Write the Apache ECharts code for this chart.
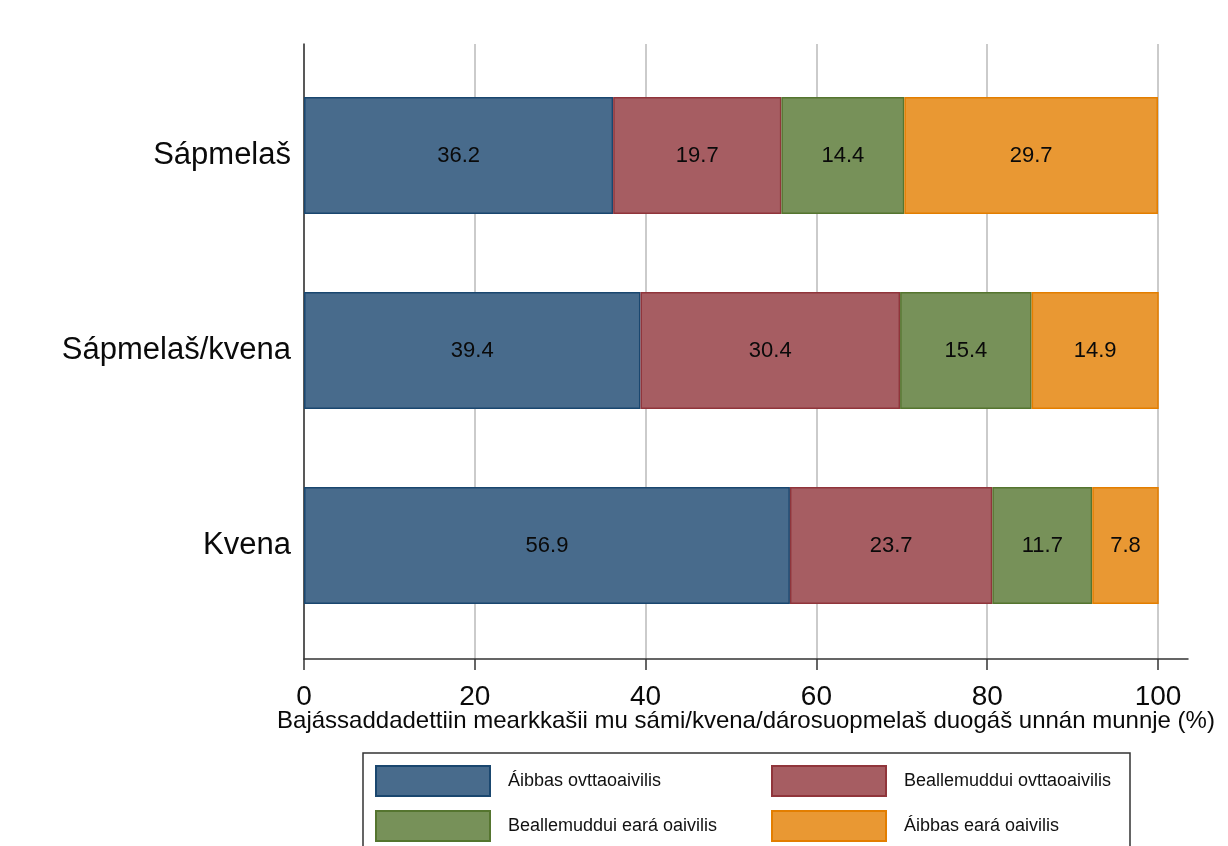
<!DOCTYPE html>
<html>
<head>
<meta charset="utf-8">
<script src="https://cdn.jsdelivr.net/npm/echarts@6/dist/echarts.min.js"></script>
<style>
html,body{margin:0;padding:0;background:#fff;}
#chart{width:1228px;height:846px;}
</style>
</head>
<body>
<div id="chart"></div>
<script>
const categories = ['Sápmelaš', 'Sápmelaš/kvena', 'Kvena'];
const seriesNames = ['Áibbas ovttaoaivilis', 'Beallemuddui ovttaoaivilis', 'Beallemuddui eará oaivilis', 'Áibbas eará oaivilis'];
const aibbasOvtta = [36.2, 39.4, 56.9];
const beallemudduiOvtta = [19.7, 30.4, 23.7];
const beallemudduiEara = [14.4, 15.4, 11.7];
const aibbasEara = [29.7, 14.9, 7.8];
const xTicks = [0, 20, 40, 60, 80, 100];
const axisTitle = 'Bajássaddadettiin mearkkašii mu sámi/kvena/dárosuopmelaš duogáš unnán munnje (%)';

const fills = ['#486b8c', '#a65d62', '#779159', '#e99833'];
const borders = ['#1a476f', '#90353b', '#55752f', '#e37e00'];
const values = [aibbasOvtta, beallemudduiOvtta, beallemudduiEara, aibbasEara];
const FONT = '"Liberation Sans", Arial, sans-serif';

const chart = echarts.init(document.getElementById('chart'), null, {renderer: 'canvas'});

const series = values.map((v, i) => ({
  name: seriesNames[i],
  type: 'bar',
  stack: 'total',
  xAxisIndex: 2,
  yAxisIndex: 2,
  barWidth: 117,
  data: v,
  itemStyle: {color: fills[i], borderColor: borders[i], borderWidth: 1.5},
  label: {
    show: true,
    position: 'inside',
    color: '#0a0a0a',
    fontFamily: FONT,
    fontSize: 22,
    formatter: p => p.value.toFixed(1)
  },
  emphasis: {disabled: true},
  animation: false
}));

const legendCommon = {
  orient: 'vertical',
  top: 765,
  padding: 0,
  itemGap: 13,
  itemWidth: 114,
  itemHeight: 30,
  icon: 'rect',
  selectedMode: false,
  textStyle: {fontFamily: FONT, fontSize: 18, color: '#111', padding: [0, 0, 0, 13]}
};

chart.setOption({
  animation: false,
  backgroundColor: '#fff',
  grid: [
    {left: 304, right: 70, top: 44, bottom: 187},
    {left: 304, right: 40, top: 44, bottom: 187},
    {left: 304, right: 70, top: 58, height: 585}
  ],
  xAxis: [
    {
      gridIndex: 0, type: 'value', min: xTicks[0], max: xTicks[xTicks.length - 1], interval: 20,
      axisLine: {show: false},
      axisTick: {show: true, length: 11, lineStyle: {color: '#333', width: 1.5}},
      axisLabel: {show: true, margin: 24, fontFamily: FONT, fontSize: 28, color: '#0a0a0a'},
      splitLine: {show: true, lineStyle: {color: '#cbcbcb', width: 2}}
    },
    {
      gridIndex: 1, type: 'value', min: 0, max: 100,
      axisLine: {show: true, lineStyle: {color: '#333', width: 1.5}},
      axisTick: {show: false}, axisLabel: {show: false}, splitLine: {show: false},
      name: axisTitle, nameLocation: 'middle', nameGap: 50,
      nameTextStyle: {fontFamily: FONT, fontSize: 24, color: '#0a0a0a'}
    },
    {
      gridIndex: 2, type: 'value', min: 0, max: 100, show: false
    }
  ],
  yAxis: [
    {
      gridIndex: 0, type: 'value', min: 0, max: 1,
      axisLine: {show: true, lineStyle: {color: '#333', width: 1.5}},
      axisTick: {show: false}, axisLabel: {show: false}, splitLine: {show: false}
    },
    {
      gridIndex: 1, type: 'value', show: false
    },
    {
      gridIndex: 2, type: 'category', data: categories, inverse: true,
      axisLine: {show: false}, axisTick: {show: false}, splitLine: {show: false},
      axisLabel: {margin: 13, fontFamily: FONT, fontSize: 31, color: '#0a0a0a'}
    }
  ],
  legend: [
    Object.assign({left: 375, data: [seriesNames[0], seriesNames[2]]}, legendCommon),
    Object.assign({left: 771, data: [seriesNames[1], seriesNames[3]]}, legendCommon)
  ],
  graphic: [{
    type: 'rect', silent: true, z: -1,
    shape: {x: 363, y: 753, width: 767, height: 140},
    style: {fill: '#fff', stroke: '#333', lineWidth: 1.5}
  }],
  series: series
});
</script>
</body>
</html>
